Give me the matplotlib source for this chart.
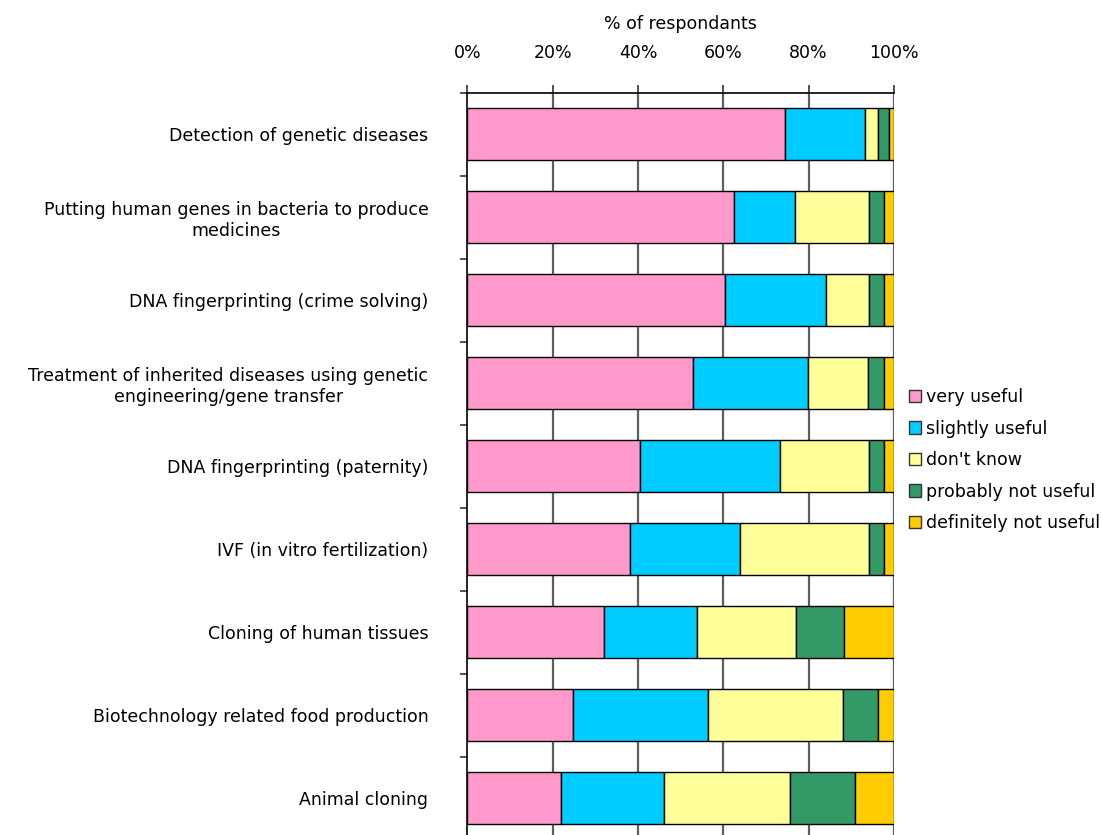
import numpy as np
import matplotlib
matplotlib.use("Agg")
import matplotlib.pyplot as plt
from matplotlib.patches import Patch

# Survey responses: share of respondents per answer for each application
categories = [
    "Detection of genetic diseases",
    "Putting human genes in bacteria to produce\nmedicines",
    "DNA fingerprinting (crime solving)",
    "Treatment of inherited diseases using genetic\nengineering/gene transfer",
    "DNA fingerprinting (paternity)",
    "IVF (in vitro fertilization)",
    "Cloning of human tissues",
    "Biotechnology related food production",
    "Animal cloning",
]
very_useful = [74.5, 62.6, 60.4, 53.0, 40.5, 38.1, 32.1, 24.8, 21.9]
slightly_useful = [18.7, 14.2, 23.6, 26.8, 32.8, 25.8, 21.7, 31.7, 24.3]
dont_know = [3.0, 17.3, 10.1, 14.0, 20.8, 30.2, 23.2, 31.6, 29.4]
probably_not = [2.6, 3.6, 3.6, 3.9, 3.6, 3.5, 11.3, 8.2, 15.3]
definitely_not = [1.2, 2.3, 2.3, 2.3, 2.3, 2.4, 11.7, 3.7, 9.1]

series_names = ["very useful", "slightly useful", "don't know",
                "probably not useful", "definitely not useful"]
series_colors = ["#FF99CC", "#00CCFF", "#FFFF99", "#339966", "#FFCC00"]
x_ticks = [0, 20, 40, 60, 80, 100]
x_tick_labels = ["0%", "20%", "40%", "60%", "80%", "100%"]

plt.rcParams["font.family"] = ["DejaVu Sans"]
FS = 12.5

W, H = 1102, 835
fig = plt.figure(figsize=(W / 100, H / 100), dpi=100)
left_px, right_px, top_px, bottom_px = 467.3, 894.0, 92.5, 839.5
ax = fig.add_axes([left_px / W, 1 - bottom_px / H,
                   (right_px - left_px) / W, (bottom_px - top_px) / H])

series = [very_useful, slightly_useful, dont_know, probably_not, definitely_not]
y = np.arange(len(categories))
left = np.zeros(len(categories))
for vals, color in zip(series, series_colors):
    vals = np.asarray(vals, dtype=float)
    ax.barh(y, vals, left=left, height=0.62, color=color,
            edgecolor="black", linewidth=1.0, zorder=3)
    left += vals

ax.set_xlim(0, 100)
ax.set_ylim(len(categories) - 0.5, -0.5)

# vertical gridlines
for xv in x_ticks[1:]:
    ax.axvline(xv, color="#5e5e5e", linewidth=1.6, zorder=1)

# top axis with percentage ticks
ax.xaxis.tick_top()
ax.xaxis.set_label_position("top")
ax.set_xticks(x_ticks)
ax.set_xticklabels(x_tick_labels, fontsize=FS)
ax.tick_params(axis="x", which="major", direction="out", length=6,
               width=1.2, color="#333333", pad=16)
ax.set_xlabel("% of respondants", fontsize=FS, labelpad=11)

# category labels centred on bars, small ticks on group boundaries
ax.set_yticks(y)
ax.set_yticklabels(categories, fontsize=FS)
ax.set_yticks(np.arange(len(categories) + 1) - 0.5, minor=True)
ax.tick_params(axis="y", which="major", length=0, pad=28)
ax.tick_params(axis="y", which="minor", direction="out", length=5,
               width=1.2, color="#333333")
for lbl in ax.get_yticklabels():
    lbl.set_multialignment("center")

for side in ["right", "bottom"]:
    ax.spines[side].set_visible(False)
ax.spines["left"].set_linewidth(1.2)
ax.spines["top"].set_linewidth(1.2)
ax.set_facecolor("white")

handles = [Patch(facecolor=c, edgecolor="#333333", linewidth=1.0)
           for c in series_colors]
fig.legend(handles, series_names, loc="upper left",
           bbox_to_anchor=(909 / W, 1 - 388 / H), frameon=False,
           fontsize=FS, handlelength=0.7, handleheight=0.7,
           handletextpad=0.3, labelspacing=0.78, borderpad=0,
           borderaxespad=0)

fig.savefig("out.png", dpi=100, facecolor="white")
